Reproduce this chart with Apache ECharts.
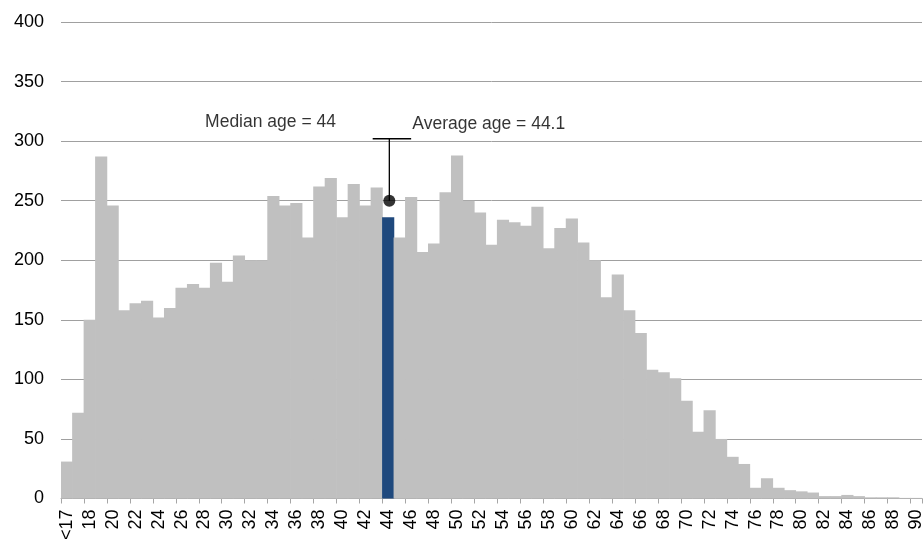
<!DOCTYPE html>
<html>
<head>
<meta charset="utf-8">
<script src="https://cdn.jsdelivr.net/npm/echarts@6/dist/echarts.min.js"></script>
<style>
html,body{margin:0;padding:0;background:#fff;}
#chart{width:923px;height:540px;}
</style>
</head>
<body>
<div id="chart"></div>
<script>
// Age categories: "<17" then single years 17..90
const categories = ["<17","17","18","19","20","21","22","23","24","25","26","27","28","29",
  "30","31","32","33","34","35","36","37","38","39","40","41","42","43","44","45","46","47",
  "48","49","50","51","52","53","54","55","56","57","58","59","60","61","62","63","64","65",
  "66","67","68","69","70","71","72","73","74","75","76","77","78","79","80","81","82","83",
  "84","85","86","87","88","89","90"];
const counts = [31,72,150,287,246,158,164,166,152,160,177,180,177,198,
  182,204,200,200,254,246,248,219,262,269,236,264,246,261,236,219,253,207,
  214,257,288,250,240,213,234,232,229,245,210,227,235,215,200,169,188,158,
  139,108,106,101,82,56,74,50,35,29,9,17,9,7,6,5,2,2,
  3,2,1,1,1,0.5,0.5];
const yTicks = [0,50,100,150,200,250,300,350,400];
const medianAge = "44";
const averageAge = 44.1;
const averageMarkerValue = 250;
const capValue = 302;
const medianText = "Median age = 44";
const averageText = "Average age = 44.1";

const font = "'Liberation Sans', Arial, sans-serif";
const medianIdx = categories.indexOf(medianAge);
const firstAge = 16; // index i corresponds to age 16+i
const avgPos = averageAge - firstAge + 0.5;
const grey = '#c0c0c0', blue = '#1f497d';
const barData = counts.map((v, i) => i === medianIdx
  ? { value: v, itemStyle: { color: blue } }
  : v);

const chart = echarts.init(document.getElementById('chart'));
chart.setOption({
  animation: false,
  grid: { left: 61, right: 1, top: 22, bottom: 41.5, containLabel: false, outerBoundsMode: 'none' },
  xAxis: [{
    type: 'category',
    data: categories,
    boundaryGap: true,
    axisLine: { show: true, lineStyle: { color: '#a6a6a6', width: 1 } },
    axisTick: { show: true, interval: 1, length: 5, lineStyle: { color: '#a6a6a6' } },
    axisLabel: { interval: 1, rotate: 90, color: '#000', fontSize: 18, fontFamily: font, margin: 11 }
  }, {
    type: 'value', min: 0, max: categories.length, show: false
  }],
  yAxis: {
    type: 'value', min: yTicks[0], max: yTicks[yTicks.length - 1], interval: 50,
    axisLine: { show: false }, axisTick: { show: false },
    axisLabel: { color: '#000', fontSize: 18, fontFamily: font, margin: 17 },
    splitLine: { lineStyle: { color: '#a0a0a0', width: 1 } }
  },
  series: [{
    type: 'bar', data: barData, xAxisIndex: 0,
    barWidth: '106%', barGap: '-100%',
    itemStyle: { color: grey }
  }, {
    type: 'line', xAxisIndex: 1, symbol: 'none', silent: true,
    lineStyle: { color: '#000', width: 1.3 },
    data: [[avgPos, averageMarkerValue], [avgPos, capValue]]
  }, {
    type: 'line', xAxisIndex: 1, symbol: 'none', silent: true,
    lineStyle: { color: '#000', width: 1.3 },
    data: [[avgPos - 1.45, capValue], [avgPos + 1.9, capValue]]
  }, {
    type: 'scatter', xAxisIndex: 1, symbol: 'circle', symbolSize: 12,
    itemStyle: { color: '#000' },
    data: [[avgPos, averageMarkerValue]]
  }, {
    type: 'scatter', xAxisIndex: 1, symbolSize: 0,
    label: { show: true, position: [0, 0], align: 'right', verticalAlign: 'middle',
      formatter: medianText, color: '#000', fontSize: 17.5, fontFamily: font },
    data: [[23.95, 316]]
  }, {
    type: 'scatter', xAxisIndex: 1, symbolSize: 0,
    label: { show: true, position: [0, 0], align: 'left', verticalAlign: 'middle',
      formatter: averageText, color: '#000', fontSize: 17.5, fontFamily: font },
    data: [[avgPos + 2.0, 314]]
  }]
});
</script>
</body>
</html>
